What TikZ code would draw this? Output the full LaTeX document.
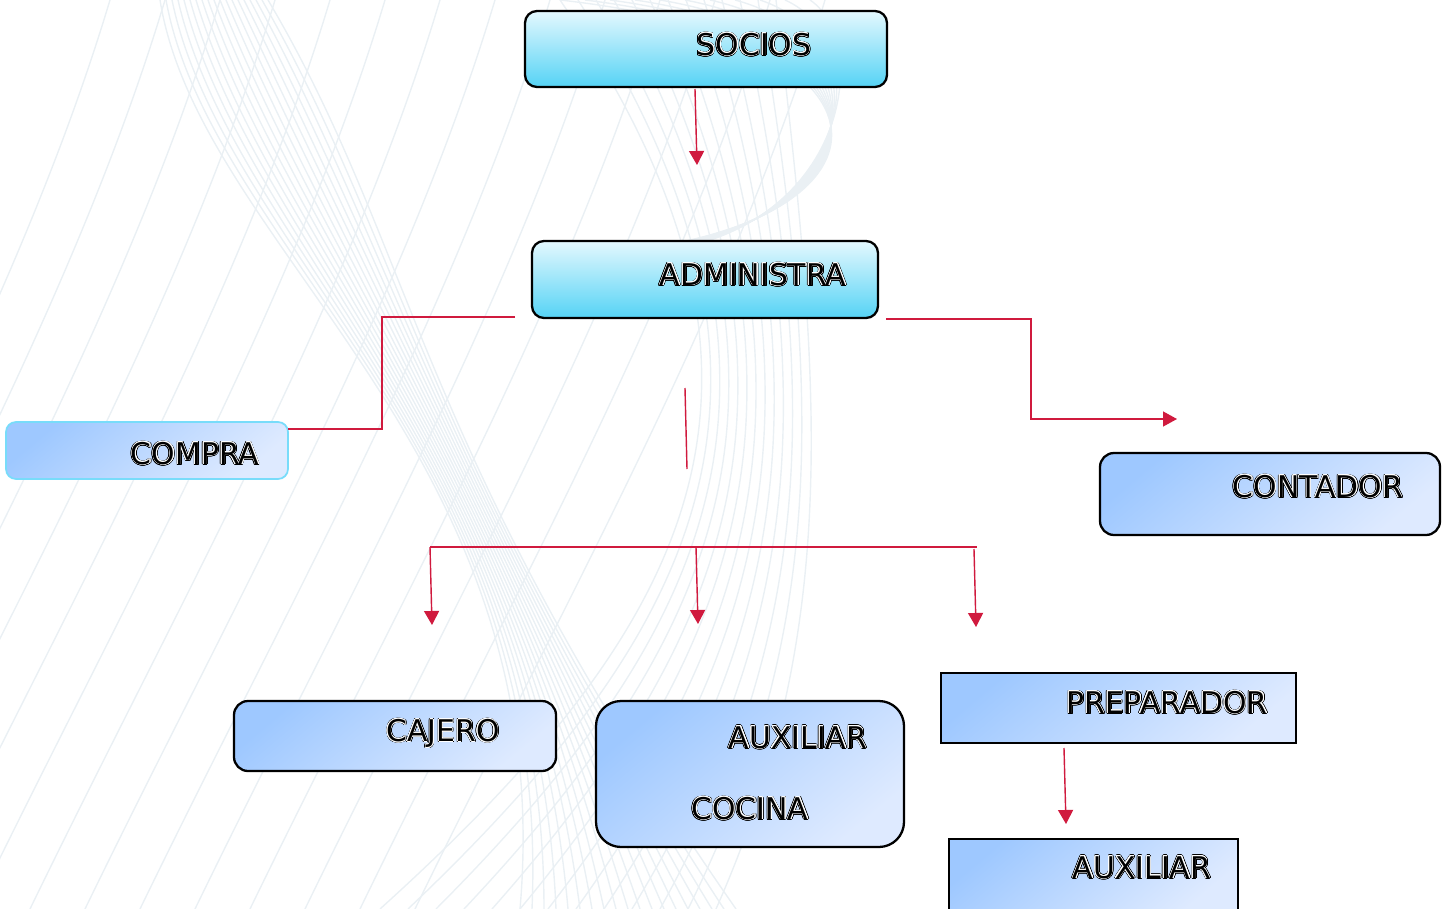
\documentclass[tikz,border=0pt]{standalone}
\usepackage{fontspec}
\setmainfont{DejaVu Sans}
\usepackage{contour}
\usetikzlibrary{arrows.meta}

\definecolor{cyantop}{RGB}{228,248,254}
\definecolor{cyanbot}{RGB}{85,211,245}
\definecolor{bluea}{RGB}{158,200,255}
\definecolor{blueb}{RGB}{222,234,255}
\definecolor{cyanedge}{RGB}{120,220,250}
\definecolor{linkred}{RGB}{208,26,62}
\definecolor{wave}{RGB}{234,240,244}

\newcommand{\hollow}[1]{%
  \rlap{\contourlength{0.7pt}\contour{black}{#1}}%
  {\contourlength{0.32pt}\contour{white}{#1}}}

\begin{document}
\begin{tikzpicture}
[x=0.02cm, y=-0.02cm,
  cyanbox/.style={draw=black, line width=1.3pt, rounded corners=0.24cm,
    top color=cyantop, bottom color=cyanbot},%
  bluebox/.style={draw=black, line width=1.3pt, rounded corners=0.28cm,
    top color=bluea, bottom color=blueb, shading angle=40},%
  softbox/.style={bluebox, draw=cyanedge, line width=1pt, rounded corners=0.2cm},%
  roundbox/.style={bluebox, rounded corners=0.5cm},%
  squarebox/.style={bluebox, sharp corners},%
  labeldecorate/.style={inner sep=0pt, font=\fontsize{17pt}{20pt}\selectfont},%
  wavedecorate/.style={draw=wave, line width=0.8pt},%
  linedecorate/.style={draw=linkred, line width=0.8pt},%
  arrowdecorate/.style={linedecorate, -{Triangle[length=0.28cm,width=0.3cm]}}]
\useasboundingbox (0,0) rectangle (1445,909);
\clip (0,0) rectangle (1445,909);
%% background waves
\foreach \k in {0,...,13} {
  \draw[wavedecorate] (\k*55-300,909) .. controls (\k*55-150,600) and (\k*55+20,300) .. (\k*55+110,0);
}
\foreach \k in {0,...,18} {
  \draw[wavedecorate] (160+\k*6,0) .. controls (200+\k*12,250) and (560-\k*8,450) .. (520+\k*12,909);
}
\foreach \k in {0,...,12} {
  \draw[wavedecorate] (380+\k*28,909) .. controls (700+\k*12,620) and (820,380) .. (560+\k*18,0);
}
\foreach \k in {0,...,10} {
  \draw[wavedecorate] (560+\k*25,0) .. controls (920-\k*5,40) and (900-\k*5,220) .. (630+\k*4,250);
}
%% boxes
\foreach \nodename/\x/\y/\w/\h/\look in {
  socios/706/49/362/76/cyanbox, admin/705/279.5/346/77/cyanbox,
  compra/147/450.5/282/57/softbox, contador/1270/494/340/82/bluebox,
  cajero/395/736/322/70/bluebox, cocina/750/774/308/146/roundbox,
  preparador/1118.5/708/355/70/squarebox, auxiliar/1093.5/875/289/72/squarebox} {
  \node (\nodename) at (\x,\y) [\look, minimum width=\w*0.02cm, minimum height=\h*0.02cm] {};
}
%% texts
\foreach \textname/\nodename/\dx/\dy/\txt in {
  sociostext/socios/48/-4/SOCIOS, admintext/admin/48/-4.5/ADMINISTRA,
  compratext/compra/48/3.5/COMPRA, contadortext/contador/48/-7/CONTADOR,
  cajerotext/cajero/48/-2/CAJERO, cocinatexta/cocina/48/-36/AUXILIAR,
  cocinatextb/cocina/0/35/COCINA, preparadortext/preparador/48.5/-5/PREPARADOR,
  auxiliartext/auxiliar/48.5/-7/AUXILIAR} {
  \node (\textname) at ([shift={(\dx,\dy)}]\nodename.center) [labeldecorate] {\hollow{\txt}};
}
%% connector ends
\coordinate (sociosout) at (695,89);
\coordinate (sociosin) at (697,165);
\coordinate (adminleft) at (515,317);
\coordinate (comprabend) at (382,429);
\coordinate (comprain) at (288,429);
\coordinate (adminright) at (886,319);
\coordinate (contadorbend) at (1031,419);
\coordinate (contadorin) at (1177,419);
\coordinate (stubtop) at (685,388);
\coordinate (stubfoot) at (687,469);
\coordinate (barleft) at (430,547);
\coordinate (barmid) at (696,547);
\coordinate (barright) at (977,547);
\coordinate (barfoot) at (974,549);
\coordinate (cajeroin) at (432,625);
\coordinate (cocinain) at (698,624);
\coordinate (preparadorin) at (976,627);
\coordinate (preparadorout) at (1064,748);
\coordinate (auxiliarin) at (1066,824);
%% lines
\draw[arrowdecorate] (sociosout) -- (sociosin);
\draw[linedecorate] (adminleft) -| (comprabend) -- (comprain);
\draw[arrowdecorate] (adminright) -| (contadorbend) -- (contadorin);
\draw[linedecorate] (stubtop) -- (stubfoot);
\draw[linedecorate] (barleft) -- (barright);
\path
\foreach \startnode/\endnode in {barleft/cajeroin, barmid/cocinain, barfoot/preparadorin, preparadorout/auxiliarin} {
  (\startnode) edge[arrowdecorate] (\endnode)
};
\end{tikzpicture}
\end{document}
